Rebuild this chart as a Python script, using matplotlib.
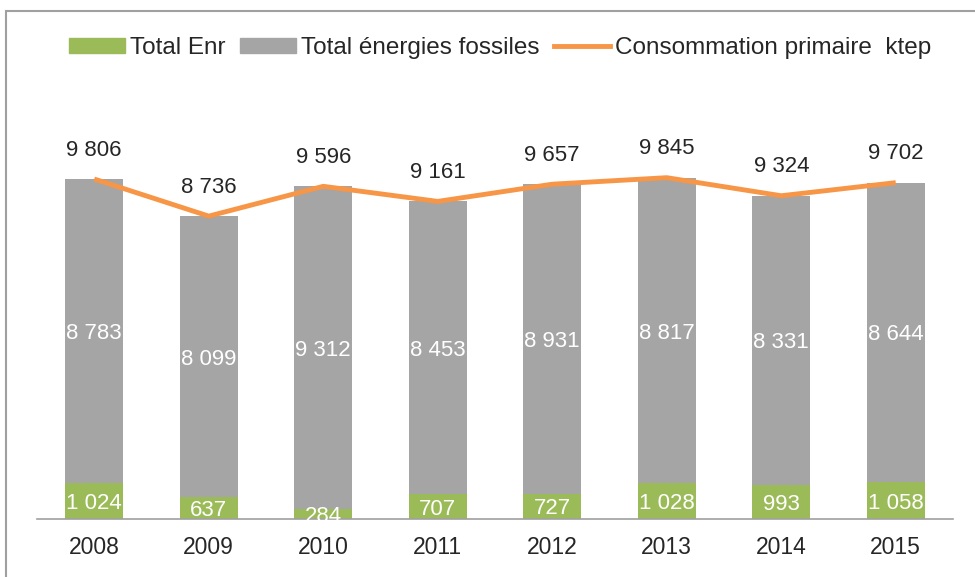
import matplotlib
matplotlib.use("Agg")
import matplotlib.pyplot as plt
from matplotlib.patches import Rectangle
from matplotlib.lines import Line2D

years = ["2008", "2009", "2010", "2011", "2012", "2013", "2014", "2015"]
enr = [1024, 637, 284, 707, 727, 1028, 993, 1058]
fossiles = [8783, 8099, 9312, 8453, 8931, 8817, 8331, 8644]
conso = [9806, 8736, 9596, 9161, 9657, 9845, 9324, 9702]

GREEN = "#9BBB59"
GRAY = "#A5A5A5"
ORANGE = "#F79646"
TXT = "#262626"

def fmt(v):
    return f"{v:,}".replace(",", " ")

W, H = 975, 577
plt.rcParams['font.family'] = ['Liberation Sans', 'DejaVu Sans']
fig = plt.figure(figsize=(W / 100, H / 100), dpi=100)

# outer frame (top and left visible)
fig.patches.append(Rectangle((6 / W, -0.05), 1.2, (H - 10.5) / H + 0.05,
                             transform=fig.transFigure, fill=False,
                             edgecolor="#A0A0A0", linewidth=1.5))

ax = fig.add_axes([37 / W, (H - 519) / H, (953 - 37) / W, (519 - 100) / H])
x = list(range(len(years)))
bw = 0.51
ax.bar(x, enr, width=bw, color=GREEN, zorder=2)
ax.bar(x, fossiles, width=bw, bottom=enr, color=GRAY, zorder=2)
ax.plot(x, conso, color=ORANGE, linewidth=3.5, zorder=3, solid_capstyle='butt')

ax.set_xlim(-0.5, len(years) - 0.5)
ax.set_ylim(0, 419 / (340 / 9807))

for i in x:
    ax.text(i, enr[i] / 2, fmt(enr[i]), ha="center", va="center_baseline",
            color="white", fontsize=16, zorder=4)
    ax.text(i, enr[i] + fossiles[i] / 2, fmt(fossiles[i]), ha="center",
            va="center_baseline", color="white", fontsize=16, zorder=4)
    ax.annotate(fmt(conso[i]), (i, conso[i]), xytext=(0, 22.5),
                textcoords="offset points", ha="center", va="center_baseline",
                fontsize=16, color=TXT, zorder=4)

for s in ["top", "right", "left"]:
    ax.spines[s].set_visible(False)
ax.spines["bottom"].set_color("#A0A0A0")
ax.spines["bottom"].set_linewidth(1.2)
ax.set_yticks([])
ax.set_xticks(x)
ax.set_xticklabels(years, fontsize=16.5, color=TXT)
ax.tick_params(axis="x", length=0, pad=12)

handles = [Rectangle((0, 0), 1, 1, color=GREEN),
           Rectangle((0, 0), 1, 1, color=GRAY),
           Line2D([0], [0], color=ORANGE, linewidth=3.5)]
labels = ["Total Enr", "Total énergies fossiles", "Consommation primaire  ktep"]
fig.legend(handles, labels, loc="center", bbox_to_anchor=(500 / W, (H - 48) / H),
           ncol=3, frameon=False, fontsize=17.5, handlelength=2.3,
           handleheight=0.6, handletextpad=0.2, columnspacing=0.6,
           labelcolor=TXT)

fig.savefig("out.png", dpi=100)
